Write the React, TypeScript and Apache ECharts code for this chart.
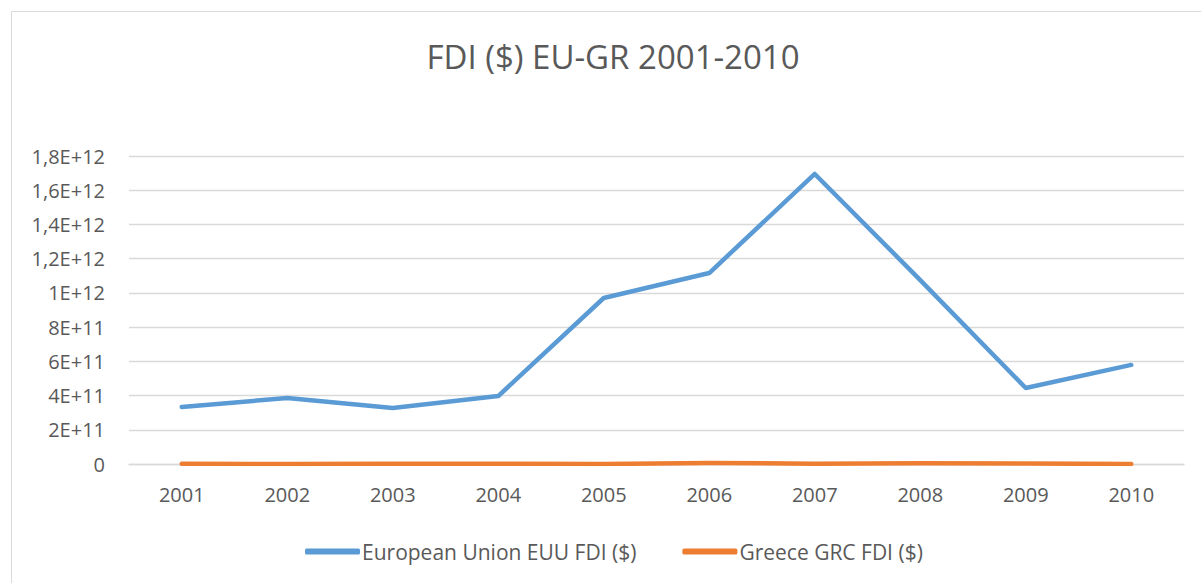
import React, { useEffect, useRef } from "react";
import * as echarts from "echarts";

const years = ["2001", "2002", "2003", "2004", "2005", "2006", "2007", "2008", "2009", "2010"];
const euFdi = [3.33e11, 3.86e11, 3.27e11, 3.97e11, 9.7e11, 1.116e12, 1.695e12, 1.075e12, 4.44e11, 5.79e11];
const grFdi = [1.6e9, 0.05e9, 1.3e9, 2.1e9, 0.6e9, 5.4e9, 2.1e9, 4.5e9, 2.4e9, 0.3e9];
const seriesNames = ["European Union EUU FDI ($)", "Greece GRC FDI ($)"];
const title = "FDI ($) EU-GR 2001-2010";

const fmt = (v: number) => {
  if (v === 0) return "0";
  const e = Math.floor(Math.log10(v) + 1e-9);
  const m = Math.round((v / Math.pow(10, e)) * 10) / 10;
  return String(m).replace(".", ",") + "E+" + e;
};

export default function App() {
  const ref = useRef<HTMLDivElement>(null);
  useEffect(() => {
    const chart = echarts.init(ref.current!, null, { renderer: "svg" });
    const font = "'Open Sans', 'Noto Sans', sans-serif";
    chart.setOption({
      animation: false,
      backgroundColor: "#ffffff",
      textStyle: { fontFamily: font },
      title: {
        text: title,
        left: 608,
        textAlign: "center",
        top: 35,
        textStyle: { fontFamily: font, fontSize: 33, fontWeight: "normal", color: "#595959" },
      },
      graphic: [
        {
          type: "rect",
          shape: { x: 11.5, y: 11.5, width: 1300, height: 700 },
          style: { fill: "none", stroke: "#d9d9d9", lineWidth: 1 },
          silent: true,
          z: -1,
        },
      ],
      grid: { left: 129, right: 17, top: 156, bottom: 119, containLabel: false },
      xAxis: {
        type: "category",
        data: years,
        boundaryGap: true,
        axisLine: { show: true, lineStyle: { color: "#d9d9d9", width: 1.3 } },
        axisTick: { show: false },
        axisLabel: { color: "#595959", fontSize: 20, margin: 20, fontFamily: font },
      },
      yAxis: {
        type: "value",
        min: 0,
        max: 1.8e12,
        interval: 2e11,
        axisLine: { show: false },
        axisTick: { show: false },
        splitLine: { lineStyle: { color: "#d9d9d9", width: 1.3 } },
        axisLabel: { color: "#595959", fontSize: 20, margin: 24, formatter: fmt, fontFamily: font },
      },
      legend: {
        bottom: 21,
        left: 305,
        padding: 0,
        itemWidth: 55,
        itemHeight: 6,
        itemGap: 46,
        icon: "roundRect",
        textStyle: { color: "#595959", fontSize: 21, fontFamily: font, padding: [0, 0, 0, -3] },
        data: seriesNames,
      },
      series: [
        {
          name: seriesNames[0],
          type: "line",
          data: euFdi,
          showSymbol: false,
          symbol: "none",
          lineStyle: { color: "#5b9bd5", width: 4.5, cap: "round", join: "round" },
          itemStyle: { color: "#5b9bd5" },
        },
        {
          name: seriesNames[1],
          type: "line",
          data: grFdi,
          showSymbol: false,
          symbol: "none",
          lineStyle: { color: "#ed7d31", width: 4.5, cap: "round", join: "round" },
          itemStyle: { color: "#ed7d31" },
        },
      ],
    });
    return () => chart.dispose();
  }, []);
  return (
    <div
      ref={ref}
      style={{ position: "fixed", left: 0, top: 0, width: 1201, height: 583 }}
    />
  );
}
